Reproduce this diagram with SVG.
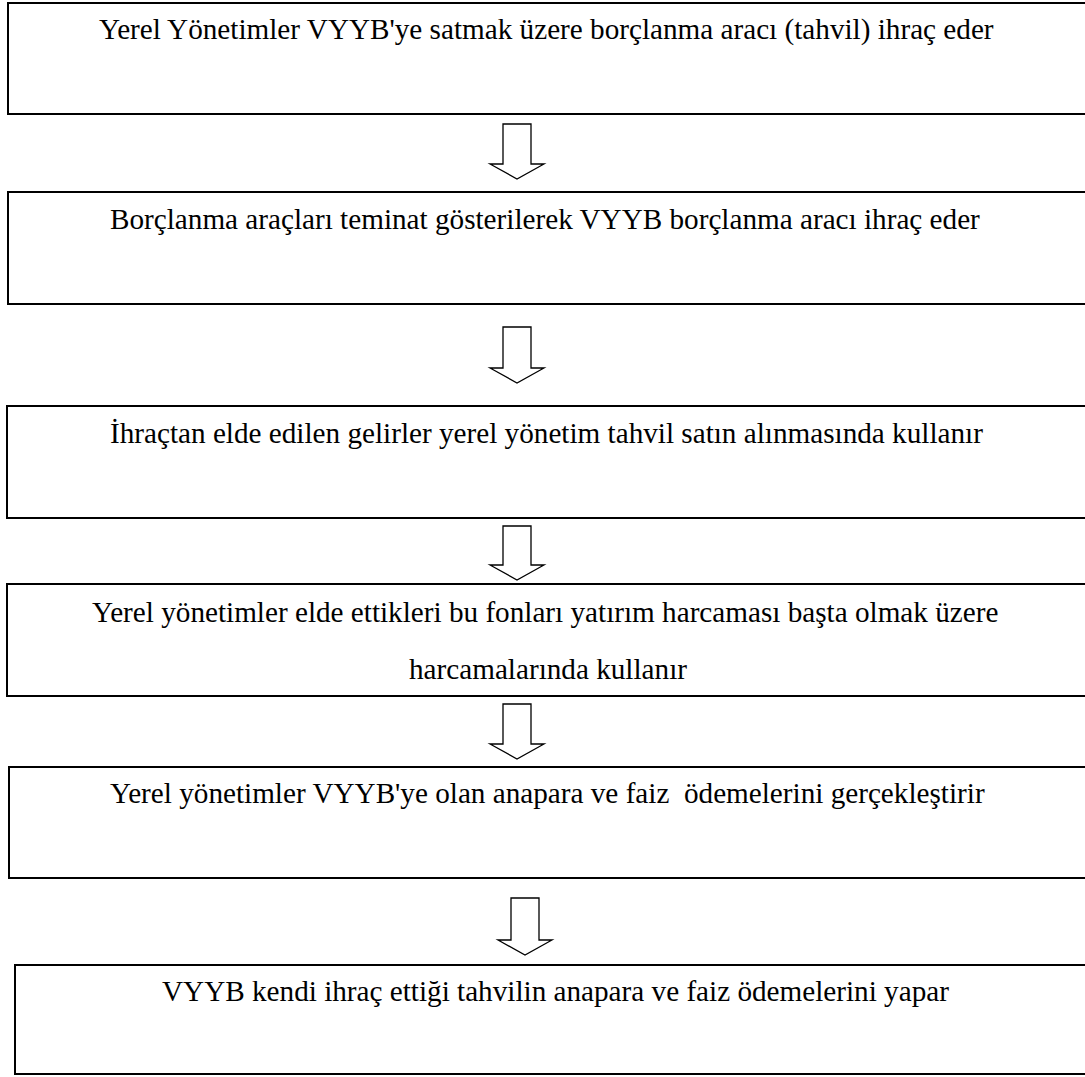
<svg xmlns="http://www.w3.org/2000/svg" width="1085" height="1077" viewBox="0 0 1085 1077">
<style>
.box{fill:#fff;stroke:#000;stroke-width:2}
.arr{fill:#fff;stroke:#000;stroke-width:1.3;stroke-linejoin:miter}
.t{font-family:"Liberation Serif","Times New Roman",serif;font-size:29.2px;fill:#000;white-space:pre}
</style>
<rect width="1085" height="1077" fill="#fff"/>
<g id="n1"><rect class="box" x="8" y="3" width="1100" height="111"/><text class="t" x="99" y="39">Yerel Yönetimler VYYB'ye satmak üzere borçlanma aracı (tahvil) ihraç eder</text></g>
<g id="n2"><rect class="box" x="8" y="192" width="1100" height="112"/><text class="t" x="110" y="229">Borçlanma araçları teminat gösterilerek VYYB borçlanma aracı ihraç eder</text></g>
<g id="n3"><rect class="box" x="7" y="406" width="1100" height="112"/><text class="t" x="110" y="443">İhraçtan elde edilen gelirler yerel yönetim tahvil satın alınmasında kullanır</text></g>
<g id="n4"><rect class="box" x="7" y="584" width="1100" height="112"/><text class="t" x="92" y="622">Yerel yönetimler elde ettikleri bu fonları yatırım harcaması başta olmak üzere</text><text class="t" x="548" y="679" text-anchor="middle">harcamalarında kullanır</text></g>
<g id="n5"><rect class="box" x="9" y="767" width="1100" height="111"/><text class="t" x="110" y="803" xml:space="preserve">Yerel yönetimler VYYB'ye olan anapara ve faiz  ödemelerini gerçekleştirir</text></g>
<g id="n6"><rect class="box" x="15" y="965" width="1100" height="109"/><text class="t" x="162" y="1001">VYYB kendi ihraç ettiği tahvilin anapara ve faiz ödemelerini yapar</text></g>
<g id="connectors">
<polygon class="arr" points="503,124 531,124 531,164 544,164 517,179 490,164 503,164"/>
<polygon class="arr" points="503,327 531,327 531,368 544,368 517,383 490,368 503,368"/>
<polygon class="arr" points="503,526 531,526 531,565 544,565 517,580 490,565 503,565"/>
<polygon class="arr" points="503,704 531,704 531,744 544,744 517,759 490,744 503,744"/>
<polygon class="arr" points="511,898 539,898 539,940 552,940 525,955 498,940 511,940"/>
</g>
</svg>
